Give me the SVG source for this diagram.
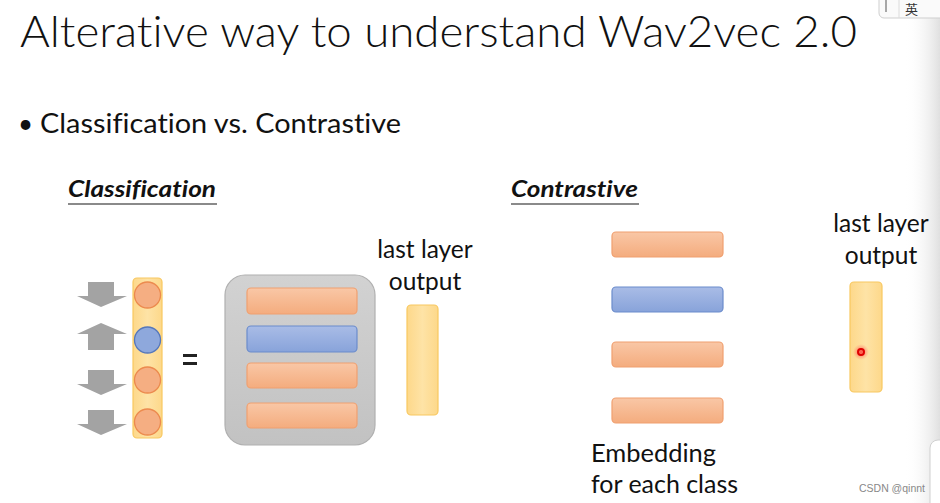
<svg xmlns="http://www.w3.org/2000/svg" width="940" height="503" viewBox="0 0 940 503">
  <defs>
    <linearGradient id="gOrange" x1="0" y1="0" x2="0" y2="1">
      <stop offset="0" stop-color="#f9c7a6"/>
      <stop offset="1" stop-color="#f4ac7e"/>
    </linearGradient>
    <linearGradient id="gBlue" x1="0" y1="0" x2="0" y2="1">
      <stop offset="0" stop-color="#a9bce6"/>
      <stop offset="1" stop-color="#88a3da"/>
    </linearGradient>
    <linearGradient id="gYellow" x1="0" y1="0" x2="1" y2="0">
      <stop offset="0" stop-color="#fdd88a"/>
      <stop offset="0.5" stop-color="#fee3a6"/>
      <stop offset="1" stop-color="#fdd88a"/>
    </linearGradient>
    <linearGradient id="gGray" x1="0" y1="0" x2="0" y2="1">
      <stop offset="0" stop-color="#d2d2d2"/>
      <stop offset="1" stop-color="#c2c2c2"/>
    </linearGradient>
    <radialGradient id="gGlow">
      <stop offset="0" stop-color="#ff3030" stop-opacity="0.8"/>
      <stop offset="1" stop-color="#ff6060" stop-opacity="0"/>
    </radialGradient>
    <linearGradient id="gEdge" x1="0" y1="0" x2="1" y2="0">
      <stop offset="0" stop-color="#ffffff" stop-opacity="0"/>
      <stop offset="1" stop-color="#d8d8d8" stop-opacity="0.8"/>
    </linearGradient>
  </defs>
  <style>
    text { font-family: Lato, "Open Sans", "Liberation Sans", sans-serif; fill: #111; font-variant-ligatures: none; }
    .title { font-size: 44px; font-weight: 300; }
    .bullet { font-size: 26px; }
    .head { font-size: 22px; font-weight: 700; font-style: italic; }
    .label { font-size: 24.5px; }
    .bar-o { fill: url(#gOrange); stroke: #f0a070; stroke-width: 1.2; }
    .bar-b { fill: url(#gBlue); stroke: #6b8ccc; stroke-width: 1.2; }
    .dot-o { fill: #f5ae82; stroke: #ec8a4e; stroke-width: 1.3; }
    .dot-b { fill: #8ea8dc; stroke: #5577bb; stroke-width: 1.3; }
    .col { fill: url(#gYellow); stroke: #f8c860; stroke-width: 1.2; }
    .arrow { fill: #a3a3a3; }
    .uline { stroke: #8a8a8a; stroke-width: 2; }
  </style>

  <rect width="940" height="503" fill="#ffffff"/>
  <!-- soft shadow along right edge -->
  <rect x="905" y="0" width="35" height="503" fill="url(#gEdge)"/>

  <!-- headings -->
  <text class="title" x="20" y="47" textLength="837" lengthAdjust="spacingAndGlyphs">Alterative way to understand Wav2vec 2.0</text>
  <text class="bullet" x="18" y="133">•</text>
  <text class="bullet" x="40" y="133" textLength="361" lengthAdjust="spacingAndGlyphs">Classification vs. Contrastive</text>

  <g id="classification-title">
    <text class="head" x="68" y="197" textLength="148" lengthAdjust="spacingAndGlyphs">Classification</text>
    <line class="uline" x1="68" y1="204" x2="217" y2="204"/>
  </g>
  <g id="contrastive-title">
    <text class="head" x="511" y="197" textLength="127" lengthAdjust="spacingAndGlyphs">Contrastive</text>
    <line class="uline" x1="511" y1="204" x2="639" y2="204"/>
  </g>

  <!-- direction arrows -->
  <g id="arrows">
    <polygon class="arrow" points="88,282 114,282 114,296 127,296 101,307 77,296 88,296"/>
    <polygon class="arrow" points="101,323 127,334 114,334 114,350 88,350 88,334 77,334"/>
    <polygon class="arrow" points="88,370 114,370 114,384 127,384 101,395 77,384 88,384"/>
    <polygon class="arrow" points="88,410 114,410 114,424 127,424 101,435 77,424 88,424"/>
  </g>

  <!-- one-hot column -->
  <g id="onehot-column">
    <rect class="col" x="133" y="278" width="29" height="160" rx="4"/>
    <circle class="dot-o" cx="147.5" cy="295" r="13"/>
    <circle class="dot-b" cx="147.5" cy="340" r="13"/>
    <circle class="dot-o" cx="147.5" cy="380" r="13"/>
    <circle class="dot-o" cx="147.5" cy="422" r="13"/>
  </g>

  <g id="equals">
    <rect x="183" y="354" width="14" height="3" fill="#222"/>
    <rect x="183" y="362" width="14" height="3" fill="#222"/>
  </g>

  <!-- class matrix -->
  <g id="class-matrix">
    <rect x="225" y="275" width="150" height="170" rx="20" fill="url(#gGray)" stroke="#b0b0b0" stroke-width="1.2"/>
    <rect class="bar-o" x="247" y="288" width="110" height="26" rx="4"/>
    <rect class="bar-b" x="247" y="326" width="110" height="26" rx="4"/>
    <rect class="bar-o" x="247" y="363" width="110" height="25" rx="4"/>
    <rect class="bar-o" x="247" y="403" width="110" height="25" rx="4"/>
  </g>

  <g id="last-layer-left">
    <text class="label" x="425" y="258" text-anchor="middle">last layer</text>
    <text class="label" x="425" y="290" text-anchor="middle">output</text>
    <rect class="col" x="407" y="305" width="31" height="110" rx="4"/>
  </g>

  <!-- class embeddings -->
  <g id="class-embeddings">
    <rect class="bar-o" x="612" y="232" width="111" height="25" rx="4"/>
    <rect class="bar-b" x="612" y="287" width="111" height="25" rx="4"/>
    <rect class="bar-o" x="612" y="342" width="111" height="25" rx="4"/>
    <rect class="bar-o" x="612" y="398" width="111" height="25" rx="4"/>
    <text class="label" x="591" y="462" textLength="125" lengthAdjust="spacingAndGlyphs">Embedding</text>
    <text class="label" x="591" y="493" textLength="147" lengthAdjust="spacingAndGlyphs">for each class</text>
  </g>

  <g id="last-layer-right">
    <text class="label" x="881" y="232" text-anchor="middle">last layer</text>
    <text class="label" x="881" y="264" text-anchor="middle">output</text>
    <rect class="col" x="850" y="282" width="32" height="110" rx="4"/>
    <circle cx="861" cy="352" r="8" fill="url(#gGlow)"/>
    <circle cx="861" cy="352" r="3" fill="none" stroke="#e00000" stroke-width="2"/>
  </g>

  <!-- input-method indicator -->
  <g id="ime">
    <rect x="879" y="-10" width="70" height="28" rx="5" fill="#fafafa" stroke="#cfcfcf"/>
    <line x1="886" y1="0" x2="886" y2="12" stroke="#555" stroke-width="1"/>
    <line x1="899" y1="-4" x2="899" y2="18" stroke="#dcdcdc" stroke-width="1"/>
    <text x="905" y="14" style="font-family: 'Noto Sans CJK SC', sans-serif; font-size: 13px; fill: #333;">英</text>
  </g>

  <text x="859" y="492" textLength="66" lengthAdjust="spacingAndGlyphs" style="font-size: 10.5px; fill: #888; font-family: 'Liberation Sans', sans-serif;">CSDN @qinnt</text>
  <rect x="930" y="440" width="30" height="75" rx="8" fill="#ffffff" stroke="#d0d0d0"/>
</svg>
